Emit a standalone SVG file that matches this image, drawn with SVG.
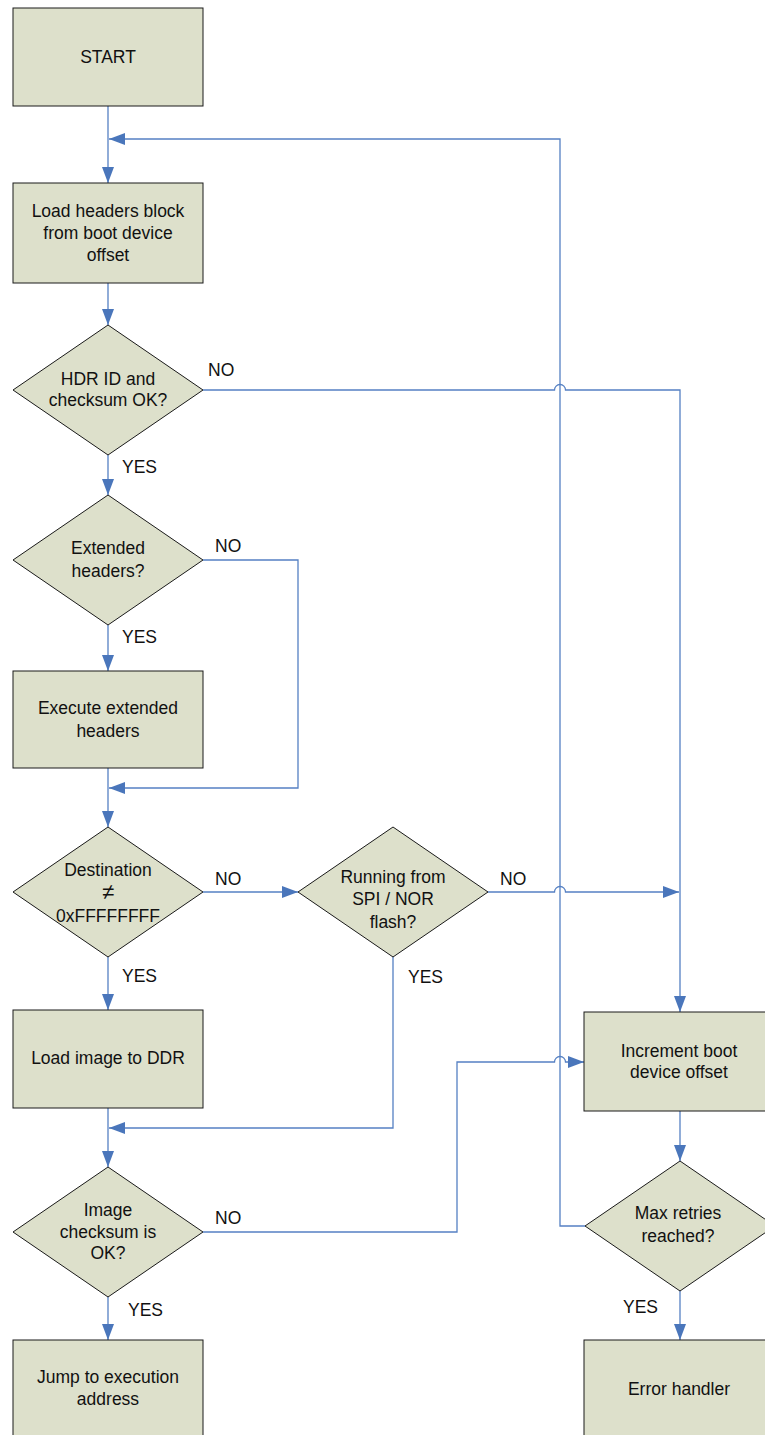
<svg xmlns="http://www.w3.org/2000/svg" width="765" height="1435" viewBox="0 0 765 1435">
  <style>
    .box { fill: #DDE0CB; stroke: #1a1a1a; stroke-width: 1; }
    .lbl { font-family: "Liberation Sans", Arial, sans-serif; font-size: 17.5px; fill: #111; text-anchor: middle; }
    .tag { font-family: "Liberation Sans", Arial, sans-serif; font-size: 17.5px; fill: #111; }
    .wire { fill: none; stroke: #5580C3; stroke-width: 1.3; }
  </style>
  <defs>
    <marker id="arrow" markerUnits="userSpaceOnUse" markerWidth="17" markerHeight="13" refX="16" refY="6" orient="auto">
      <path d="M0,0 L16,6 L0,12 z" fill="#4A76BB"/>
    </marker>
  </defs>
  <rect width="765" height="1435" fill="#ffffff"/>

  <!-- connectors -->
  <g id="connectors">
    <path class="wire" d="M108,106 V183" marker-end="url(#arrow)"/>
    <path class="wire" d="M108,283 V325" marker-end="url(#arrow)"/>
    <path class="wire" d="M108,455 V495" marker-end="url(#arrow)"/>
    <path class="wire" d="M108,625 V671" marker-end="url(#arrow)"/>
    <path class="wire" d="M108,768 V827" marker-end="url(#arrow)"/>
    <path class="wire" d="M108,957 V1010" marker-end="url(#arrow)"/>
    <path class="wire" d="M108,1108 V1167" marker-end="url(#arrow)"/>
    <path class="wire" d="M108,1297 V1340" marker-end="url(#arrow)"/>
    <!-- HDR check failed -->
    <path class="wire" d="M203,390 H554.5 A5.5,5.5 0 0 1 565.5,390 H680 V1012" marker-end="url(#arrow)"/>
    <!-- no extended headers -->
    <path class="wire" d="M203,560 H298 V788 H109" marker-end="url(#arrow)"/>
    <!-- destination check -->
    <path class="wire" d="M203,892 H298" marker-end="url(#arrow)"/>
    <path class="wire" d="M488,892 H554.5 A5.5,5.5 0 0 1 565.5,892 H679" marker-end="url(#arrow)"/>
    <path class="wire" d="M393,957 V1128 H109" marker-end="url(#arrow)"/>
    <!-- image checksum failed -->
    <path class="wire" d="M203,1232 H457 V1062 H554.5 A5.5,5.5 0 0 1 565.5,1062 H584" marker-end="url(#arrow)"/>
    <!-- retry loop -->
    <path class="wire" d="M680,1111 V1161" marker-end="url(#arrow)"/>
    <path class="wire" d="M585,1226 H560 V139 H109" marker-end="url(#arrow)"/>
    <path class="wire" d="M680,1291 V1340" marker-end="url(#arrow)"/>
  </g>

  <!-- edge labels -->
  <g id="edge-labels">
    <text class="tag" x="208" y="376">NO</text>
    <text class="tag" x="122" y="473">YES</text>
    <text class="tag" x="215" y="552">NO</text>
    <text class="tag" x="122" y="643">YES</text>
    <text class="tag" x="215" y="885">NO</text>
    <text class="tag" x="122" y="982">YES</text>
    <text class="tag" x="500" y="885">NO</text>
    <text class="tag" x="408" y="983">YES</text>
    <text class="tag" x="215" y="1224">NO</text>
    <text class="tag" x="128" y="1316">YES</text>
    <text class="tag" x="623" y="1313">YES</text>
  </g>

  <g id="start">
    <rect class="box" x="13" y="8" width="190" height="98"/>
    <text class="lbl" x="108" y="63">START</text>
  </g>

  <g id="load-headers">
    <rect class="box" x="13" y="183" width="190" height="100"/>
    <text class="lbl" x="108" y="217">Load headers block</text>
    <text class="lbl" x="108" y="239">from boot device</text>
    <text class="lbl" x="108" y="261">offset</text>
  </g>

  <g id="hdr-check">
    <polygon class="box" points="108,325 203,390 108,455 13,390"/>
    <text class="lbl" x="108" y="385">HDR ID and</text>
    <text class="lbl" x="108" y="406">checksum OK?</text>
  </g>

  <g id="extended-check">
    <polygon class="box" points="108,495 203,560 108,625 13,560"/>
    <text class="lbl" x="108" y="554">Extended</text>
    <text class="lbl" x="108" y="577">headers?</text>
  </g>

  <g id="execute-extended">
    <rect class="box" x="13" y="671" width="190" height="97"/>
    <text class="lbl" x="108" y="714">Execute extended</text>
    <text class="lbl" x="108" y="737">headers</text>
  </g>

  <g id="destination-check">
    <polygon class="box" points="108,827 203,892 108,957 13,892"/>
    <text class="lbl" x="108" y="876">Destination</text>
    <text class="lbl" x="108" y="899" style="font-size:22px">≠</text>
    <text class="lbl" x="108" y="922">0xFFFFFFFF</text>
  </g>

  <g id="spi-nor-check">
    <polygon class="box" points="393,827 488,892 393,957 298,892"/>
    <text class="lbl" x="393" y="883">Running from</text>
    <text class="lbl" x="393" y="905">SPI / NOR</text>
    <text class="lbl" x="393" y="928">flash?</text>
  </g>

  <g id="load-image">
    <rect class="box" x="13" y="1010" width="190" height="98"/>
    <text class="lbl" x="108" y="1064">Load image to DDR</text>
  </g>

  <g id="image-check">
    <polygon class="box" points="108,1167 203,1232 108,1297 13,1232"/>
    <text class="lbl" x="108" y="1216">Image</text>
    <text class="lbl" x="108" y="1238">checksum is</text>
    <text class="lbl" x="108" y="1259">OK?</text>
  </g>

  <g id="jump">
    <rect class="box" x="13" y="1340" width="190" height="100"/>
    <text class="lbl" x="108" y="1383">Jump to execution</text>
    <text class="lbl" x="108" y="1405">address</text>
  </g>

  <g id="increment-offset">
    <rect class="box" x="584" y="1012" width="191" height="99"/>
    <text class="lbl" x="679" y="1057">Increment boot</text>
    <text class="lbl" x="679" y="1078">device offset</text>
  </g>

  <g id="max-retries">
    <polygon class="box" points="680,1161 775,1226 680,1291 585,1226"/>
    <text class="lbl" x="678" y="1219">Max retries</text>
    <text class="lbl" x="678" y="1242">reached?</text>
  </g>

  <g id="error-handler">
    <rect class="box" x="584" y="1340" width="191" height="100"/>
    <text class="lbl" x="679" y="1395">Error handler</text>
  </g>
</svg>
